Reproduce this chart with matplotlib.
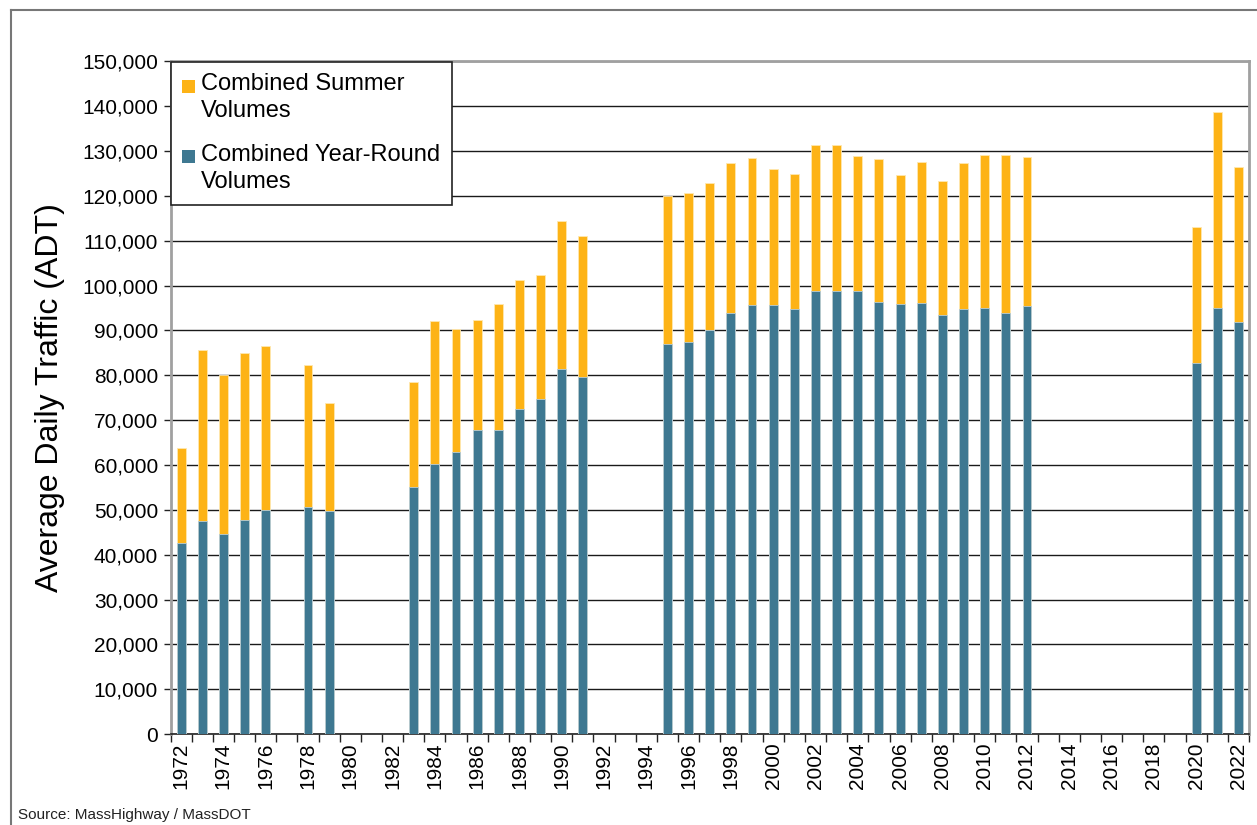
import matplotlib
matplotlib.use("Agg")
import matplotlib.pyplot as plt
from matplotlib import font_manager
from matplotlib.lines import Line2D
from matplotlib.patches import Patch, Rectangle
from matplotlib.legend_handler import HandlerPatch

years = [1972, 1973, 1974, 1975, 1976, 1978, 1979,
         1983, 1984, 1985, 1986, 1987, 1988, 1989, 1990, 1991,
         1995, 1996, 1997, 1998, 1999, 2000, 2001, 2002, 2003, 2004,
         2005, 2006, 2007, 2008, 2009, 2010, 2011, 2012,
         2020, 2021, 2022]
summer = [63800, 85600, 80000, 85000, 86500, 82300, 73800,
          78600, 92200, 90300, 92300, 96000, 101300, 102300, 114500, 111000,
          120000, 120600, 122900, 127400, 128500, 126000, 124800, 131400, 131300, 129000,
          128200, 124600, 127500, 123400, 127400, 129100, 129200, 128800,
          113000, 138800, 126500]
year_round = [42600, 47400, 44700, 47700, 50000, 50600, 49700,
              55000, 60300, 63000, 67800, 67800, 72500, 74800, 81500, 79700,
              86900, 87500, 90100, 94000, 95600, 95600, 94900, 98900, 98800, 98900,
              96300, 95900, 96100, 93400, 94900, 95000, 94000, 95400,
              82700, 95000, 91900]
year_labels = list(range(1972, 2023, 2))
y_ticks = list(range(0, 150001, 10000))

ORANGE = "#FDB316"
TEAL = "#3E7891"

names = {f.name for f in font_manager.fontManager.ttflist}
plt.rcParams['font.family'] = ['Liberation Sans', 'DejaVu Sans']

fig = plt.figure(figsize=(12.57, 8.25), dpi=100)
ax = fig.add_axes([170.5/1257, 1-734/825, (1249-170.5)/1257, (734-61.5)/825])

ax.bar(years, summer, width=0.42, color=ORANGE, edgecolor="#FFE8B0", linewidth=0.6, zorder=3)
ax.bar(years, year_round, width=0.42, color=TEAL, edgecolor="#B8CCD6", linewidth=0.6, zorder=4)

ax.set_xlim(1971.5, 2022.5)
ax.set_ylim(0, 150000)
ax.set_yticks(y_ticks)
ax.set_yticklabels([f"{v:,}" for v in y_ticks], fontsize=15)
ax.yaxis.grid(True, color="#1a1a1a", linewidth=1.0, zorder=1)
ax.set_axisbelow(True)

ax.set_xticks(year_labels)
ax.set_xticklabels([str(y) for y in year_labels], rotation=90, fontsize=15)
ax.tick_params(axis='x', which='major', length=0, pad=6)
ax.set_xticks([y + 0.5 for y in range(1971, 2023)], minor=True)
ax.tick_params(axis='x', which='minor', length=6, width=1, color="#222222", direction='out')
ax.tick_params(axis='y', length=5, width=1, color="#222222", pad=4)

for s in ['top', 'right', 'left']:
    ax.spines[s].set_color("#a0a0a0")
    ax.spines[s].set_linewidth(2)
ax.spines['bottom'].set_color("#222222")
ax.spines['bottom'].set_linewidth(1.2)

ax.set_ylabel("Average Daily Traffic (ADT)", fontsize=23, labelpad=12)


def top_square(legend, orig_handle, xdescent, ydescent, width, height, fontsize):
    sq = 0.55 * fontsize
    return Rectangle((-xdescent, -ydescent + height - sq + 0.02 * fontsize), sq, sq)


handles = [Patch(facecolor=ORANGE, edgecolor='none'), Patch(facecolor=TEAL, edgecolor='none')]
hmap = {h: HandlerPatch(patch_func=top_square) for h in handles}
leg = ax.legend(handles, ["Combined Summer\nVolumes", "Combined Year-Round\nVolumes"],
                loc='upper left', bbox_to_anchor=(0.0, 1.0), fontsize=17,
                frameon=True, fancybox=False, edgecolor="#222222", framealpha=1,
                handlelength=0.55, handleheight=2.0, handletextpad=0.25,
                borderpad=0.5, labelspacing=0.9, borderaxespad=0.0,
                handler_map=hmap)
for t in leg.get_texts():
    t.set_linespacing(1.3)
leg.get_frame().set_linewidth(1.2)
leg.set_zorder(10)

# outer frame
fig.add_artist(Line2D([11/1257, 11/1257], [0, 1-10/825], transform=fig.transFigure, color="#777777", lw=1.5))
fig.add_artist(Line2D([11/1257, 1], [1-10/825, 1-10/825], transform=fig.transFigure, color="#777777", lw=1.5))

if 'Liberation Sans Narrow' in names:
    fig.text(18/1257, 1-815/825, "Source: MassHighway / MassDOT", fontsize=13,
             family=['Liberation Sans Narrow', 'DejaVu Sans'], va='center', ha='left', color="#222222")
else:
    fig.text(18/1257, 1-815/825, "Source: MassHighway / MassDOT", fontsize=11,
             va='center', ha='left', color="#222222")

fig.savefig("out.png", dpi=100)
